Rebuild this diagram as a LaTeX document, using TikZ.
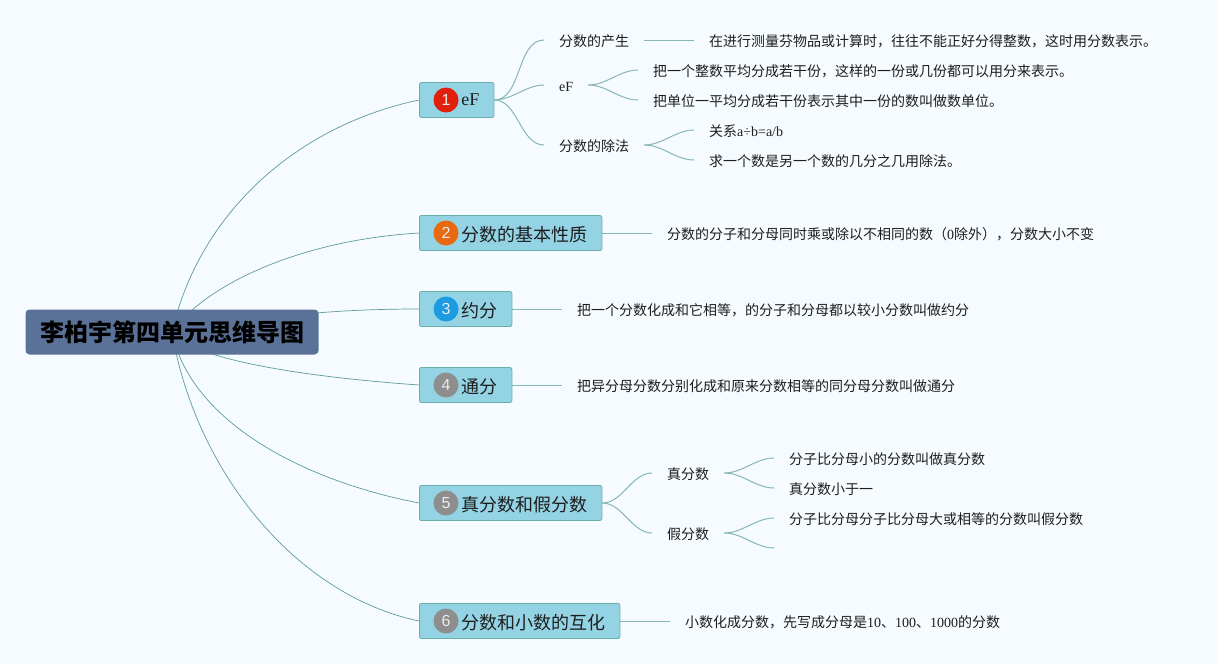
\documentclass[tikz,border=0pt]{standalone}
\usepackage{fontspec}
\setmainfont{Liberation Serif}
\newfontfamily\cjk{Noto Sans CJK SC}
\newfontfamily\digitfont{Liberation Sans}
\usetikzlibrary{backgrounds}
\definecolor{pagebg}{HTML}{F5FBFF}
\definecolor{rootfill}{HTML}{5B7298}
\definecolor{topicfill}{HTML}{93D3E4}
\definecolor{topicline}{HTML}{6AAEAC}
\definecolor{mainedge}{HTML}{5F9C92}
\definecolor{subedge}{HTML}{86B8B0}
\definecolor{iconred}{HTML}{E0200C}
\definecolor{iconorange}{HTML}{E8690F}
\definecolor{iconblue}{HTML}{1C9BE0}
\definecolor{icongray}{HTML}{8E8E8E}
\definecolor{inktext}{HTML}{1E1E1E}

\begin{document}
\begin{tikzpicture}[
    x=1pt, y=-1pt,
    root/.style={rectangle, rounded corners=4pt, fill=rootfill, font=\cjk\bfseries\fontsize{24}{24}\selectfont, text=black, minimum width=293pt, minimum height=45pt, inner sep=0pt},
    topic/.style={rectangle, rounded corners=2pt, draw=topicline, line width=0.8pt, fill=topicfill, font=\fontsize{18}{18}\selectfont, text=inktext, anchor=west, minimum height=35pt, inner xsep=14.5pt, inner ysep=0pt, text height=17pt, text depth=0.4pt},
    icon/.style={circle, minimum size=25pt, inner sep=0pt, font=\digitfont\fontsize{16}{16}\selectfont, text=white!85!gray},
    leaf/.style={anchor=west, font=\fontsize{14}{14}\selectfont, text=inktext, inner xsep=15pt, inner ysep=2pt, text height=14pt, text depth=0.4pt},
    mainline/.style={draw=mainedge, line width=0.7pt},
    subline/.style={draw=subedge, line width=1pt},
    branch/.style={out=0, in=180, looseness=0.9}
]
% Central topic
\node (root) [root] at (172,332) {\cjk 李柏宇第四单元思维导图};

% Main topics
\node (t1) [topic] at (419,100) {\hspace*{27.5pt}\raisebox{2.5pt}{eF}};
\node (t2) [topic] at (419,233) {\hspace*{27.5pt}\cjk 分数的基本性质};
\node (t3) [topic] at (419,309) {\hspace*{27.5pt}\cjk 约分};
\node (t4) [topic] at (419,385) {\hspace*{27.5pt}\cjk 通分};
\node (t5) [topic] at (419,503) {\hspace*{27.5pt}\cjk 真分数和假分数};
\node (t6) [topic] at (419,621) {\hspace*{27.5pt}\cjk 分数和小数的互化};

% Number icons
\foreach \n/\col in {1/iconred, 2/iconorange, 3/iconblue, 4/icongray, 5/icongray, 6/icongray}
    \node (icon\n) [icon, fill=\col, xshift=27pt] at (t\n.west) {\n};

% Branch 1
\node (origin) [leaf] at (544,40) {\cjk 分数的产生};
\node (originText) [leaf] at (694,40) {\cjk 在进行测量芬物品或计算时，往往不能正好分得整数，这时用分数表示。};
\node (meaning) [leaf] at (544,85) {eF};
\node (meaningA) [leaf] at (638,70) {\cjk 把一个整数平均分成若干份，这样的一份或几份都可以用分来表示。};
\node (meaningB) [leaf] at (638,100) {\cjk 把单位一平均分成若干份表示其中一份的数叫做数单位。};
\node (division) [leaf] at (544,145) {\cjk 分数的除法};
\node (divisionA) [leaf] at (694,130) {{\cjk 关系}a÷b=a/b};
\node (divisionB) [leaf] at (694,160) {\cjk 求一个数是另一个数的几分之几用除法。};

% Branches 2, 3, 4
\node (basicText) [leaf] at (652,233) {\cjk 分数的分子和分母同时乘或除以不相同的数（{\rmfamily 0}除外），分数大小不变};
\node (reduceText) [leaf] at (562,309) {\cjk 把一个分数化成和它相等，的分子和分母都以较小分数叫做约分};
\node (commonText) [leaf] at (562,385) {\cjk 把异分母分数分别化成和原来分数相等的同分母分数叫做通分};

% Branch 5
\node (proper) [leaf] at (652,473) {\cjk 真分数};
\node (properA) [leaf] at (774,458) {\cjk 分子比分母小的分数叫做真分数};
\node (properB) [leaf] at (774,488) {\cjk 真分数小于一};
\node (improper) [leaf] at (652,533) {\cjk 假分数};
\node (improperA) [leaf] at (774,518) {\cjk 分子比分母分子比分母大或相等的分数叫假分数};
\coordinate (improperB) at (774,548);

% Branch 6
\node (decimalText) [leaf] at (670,621) {{\cjk 小数化成分数，先写成分母是}10{\cjk 、}100{\cjk 、}1000{\cjk 的分数}};

\begin{scope}[on background layer]
\fill [pagebg] (0,0) rectangle (1217,664);
% Edges from the central topic
\draw [mainline] (root.center) .. controls (200,210) and (300,125) .. (t1.west);
\draw [mainline] (root.center) .. controls (205,285) and (300,240) .. (t2.west);
\draw [mainline] (root.center) .. controls (270,315) and (340,309) .. (t3.west);
\draw [mainline] (root.center) .. controls (195,362) and (320,378) .. (t4.west);
\draw [mainline] (root.center) .. controls (190,420) and (300,480) .. (t5.west);
\draw [mainline] (root.center) .. controls (195,470) and (295,595) .. (t6.west);
% Edges of the branches
\draw [subline] (t1.east) to[branch] (origin.west);
\draw [subline] (t1.east) to[branch] (meaning.west);
\draw [subline] (t1.east) to[branch] (division.west);
\draw [subline] (origin.east) -- (originText.west);
\draw [subline] (meaning.east) to[branch] (meaningA.west);
\draw [subline] (meaning.east) to[branch] (meaningB.west);
\draw [subline] (division.east) to[branch] (divisionA.west);
\draw [subline] (division.east) to[branch] (divisionB.west);
\draw [subline] (t2.east) -- (basicText.west);
\draw [subline] (t3.east) -- (reduceText.west);
\draw [subline] (t4.east) -- (commonText.west);
\draw [subline] (t5.east) to[branch] (proper.west);
\draw [subline] (t5.east) to[branch] (improper.west);
\draw [subline] (proper.east) to[branch] (properA.west);
\draw [subline] (proper.east) to[branch] (properB.west);
\draw [subline] (improper.east) to[branch] (improperA.west);
\draw [subline] (improper.east) to[branch] (improperB);
\draw [subline] (t6.east) -- (decimalText.west);
\end{scope}
\useasboundingbox (0,0) rectangle (1217,664);
\end{tikzpicture}
\end{document}
